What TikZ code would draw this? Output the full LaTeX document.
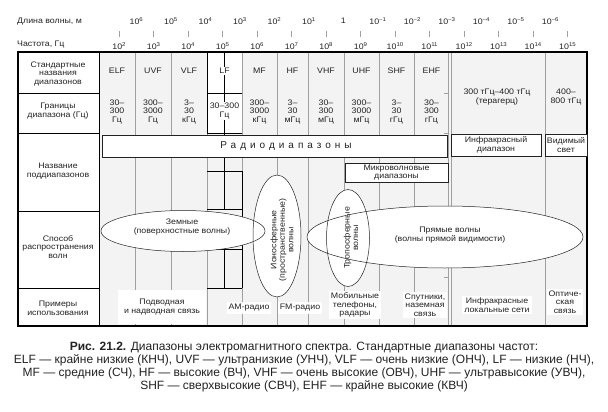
\documentclass[tikz,border=0pt]{standalone}
\usepackage{fontspec}
\setmainfont{Liberation Sans}
\newfontfamily\tabfont{Liberation Sans}[FakeStretch=1.1]
\definecolor{Rule}{HTML}{A0A0A0}
\definecolor{Pale}{HTML}{F3F3F3}
\definecolor{Ink}{HTML}{222222}
\newcommand{\pw}[1]{10\raisebox{0.75ex}{\fontsize{5.5}{5.5}\selectfont#1}}
\tikzset{txt/.style={align=center,inner sep=1pt,text=Ink},
  hdr/.style={txt,anchor=west},
  boxed/.style={txt,draw=Ink,fill=white,line width=0.5pt,inner sep=0pt},
  usage/.style={txt,fill=white,inner sep=2pt},
  waveline/.style={draw=Ink,line width=0.5pt},
  colline/.style={draw=Rule,line width=0.6pt},
  rowline/.style={draw=black,line width=0.8pt},
  lfline/.style={draw=black,line width=0.7pt},
  outline/.style={draw=black,line width=1.3pt}}

\begin{document}
\begin{tikzpicture}[x=1pt,y=-1pt,font=\tabfont\fontsize{8}{8.6}\selectfont]
\useasboundingbox (0,0) rectangle (608,412);
% scales
\node[hdr] (wlen) at (16,22) {Длина волны, м};
\node[hdr] (freq) at (16,45) {Частота, Гц};
\foreach \k in {2,...,15}{
  \pgfmathsetmacro\tx{119+34.5*(\k-2)}
  \draw[colline] (\tx,31) -- (\tx,37);
  \node[txt] (f\k) at (\tx,46) {\pw{\k}};
}
\foreach \k/\w in {2/\pw{6},3/\pw{5},4/\pw{4},5/\pw{3},6/\pw{2},7/\pw{1},8/1,9/\pw{−1},10/\pw{−2},11/\pw{−3},12/\pw{−4},13/\pw{−5},14/\pw{−6}}{
  \pgfmathsetmacro\tx{136.25+34.5*(\k-2)}
  \node[txt] (w\k) at (\tx,21) {\w};
}
% table body
\fill[Pale] (99,52) rectangle (587,326);
\fill[white] (207,52) rectangle (242,133);
\foreach \cx in {135,171,207,242,277,308,344,379,414,448,451,545}
  \draw[colline] (\cx,52) -- (\cx,326);
\foreach \ry in {93,133,172,277}
  \draw[colline] (444,\ry) -- (448,\ry);
\draw[lfline] (224,52) -- (224,209) (224,249) -- (224,288);
\draw[lfline] (207,52) -- (207,133) (242,171) -- (242,288);
\foreach \ry in {93,133,171,209,249,288}
  \draw[lfline] (207,\ry) -- (242,\ry);
\foreach \ry in {93,133,211,288}
  \draw[rowline] (18,\ry) -- (99,\ry);
\draw[rowline] (99,52) -- (99,326);
\draw[outline] (18,52) rectangle (587,326);
% row titles
\node[txt] (t1) at (58,74) {Стандартные\\названия\\диапазонов};
\node[txt] (t2) at (58,111) {Границы\\диапазона (Гц)};
\node[txt] (t3) at (58,171) {Название\\поддиапазонов};
\node[txt] (t4) at (58,247) {Способ\\распространения\\волн};
\node[txt] (t5) at (58,308) {Примеры\\использования};
% band names and limits
\foreach \cx/\nm in {117/ELF,153/UVF,189/VLF,259.5/MF,292.5/HF,326/VHF,361.5/UHF,396.5/SHF,431.5/EHF}
  \node[txt] (n\nm) at (\cx,71) {\nm};
\node[txt,fill=white] (nLF) at (224.5,71) {LF};
\foreach \cx/\rg [count=\i] in {117/{30–\\300\\Гц},153/{300–\\3000\\Гц},189/{3–\\30\\кГц},259.5/{300–\\3000\\кГц},292.5/{3–\\30\\мГц},326/{30–\\300\\мГц},361.5/{300–\\3000\\мГц},396.5/{3–\\30\\гГц},431.5/{30–\\300\\гГц}}
  \node[txt] (r\i) at (\cx,112) {\rg};
\node[txt,fill=white] (rLF) at (224.5,111) {30–300\\Гц};
\node[txt] (rIR) at (497,97) {300 тГц–400 тГц\\(терагерц)};
\node[txt] (rVis) at (566,97) {400–\\800 тГц};
% sub-bands
\node[boxed,minimum width=345,minimum height=22] (radio) at (274.5,146) {};
\node[txt,font=\fontsize{10}{12}\selectfont\addfontfeature{LetterSpace=40}] (radiot) at (286,146) {Радиодиапазоны};
\node[boxed,minimum width=90,minimum height=22] (infra) at (496,145) {Инфракрасный\\диапазон};
\node[boxed,minimum width=42,minimum height=22] (vis) at (566,145) {Видимый\\свет};
\node[boxed,minimum width=103,minimum height=19] (micro) at (396.5,172.5) {Микроволновые\\диапазоны};
% propagation
\fill[white] (183,231) ellipse [x radius=82,y radius=20.5];
\fill[white] (277,236) ellipse [x radius=24,y radius=61];
\fill[white] (445,237) ellipse [x radius=138,y radius=31];
\fill[white] (348,238) ellipse [x radius=21.5,y radius=48.5];
\draw[waveline] (183,231) ellipse [x radius=82,y radius=20.5];
\draw[waveline] (277,236) ellipse [x radius=24,y radius=61];
\draw[waveline] (445,237) ellipse [x radius=138,y radius=31];
\draw[waveline] (348,238) ellipse [x radius=21.5,y radius=48.5];
\node[txt] (ground) at (182,227) {Земные\\(поверхностные волны)};
\node[txt,rotate=90] (iono) at (282,240) {Ионосферные\\(пространственные)\\волны};
\node[txt] (direct) at (450,235) {Прямые волны\\(волны прямой видимости)};
\node[txt,rotate=90] (tropo) at (351,238) {Тропосферные\\волны};
% usage
\node[usage,minimum width=88,minimum height=34] (sea) at (162,307) {Подводная\\и надводная связь};
\node[usage] (am) at (249,308) {AM-радио};
\node[usage] (fm) at (300,308) {FM-радио};
\node[usage] (mobile) at (355,305) {Мобильные\\телефоны,\\радары};
\node[usage] (sat) at (425,305) {Спутники,\\наземная\\связь};
\node[usage] (lan) at (497,305) {Инфракрасные\\локальные сети};
\node[usage] (optic) at (565,302) {Оптиче-\\ская\\связь};
% caption
\node[txt,font=\rmfamily\fontsize{12}{13}\selectfont] (caption) at (304,367) {\textbf{Рис. 21.2.} Диапазоны электромагнитного спектра. Стандартные диапазоны частот:\\ELF — крайне низкие (КНЧ), UVF — ультранизкие (УНЧ), VLF — очень низкие (ОНЧ), LF — низкие (НЧ),\\MF — средние (СЧ), HF — высокие (ВЧ), VHF — очень высокие (ОВЧ), UHF — ультравысокие (УВЧ),\\SHF — сверхвысокие (СВЧ), EHF — крайне высокие (КВЧ)};
\end{tikzpicture}
\end{document}
